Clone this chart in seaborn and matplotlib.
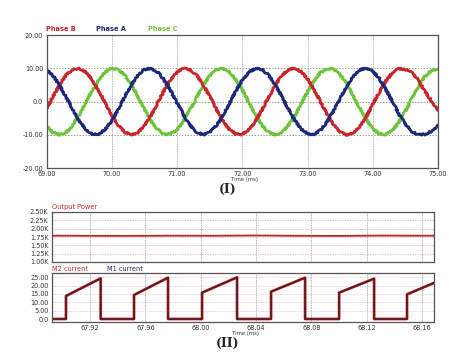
import numpy as np
import pandas as pd
import seaborn as sns
import matplotlib.pyplot as plt

# ---- data ----
# (I) three phase currents, sampled every 0.1 ms from 69.0 to 75.0 ms
phase_time = [round(69.0 + 0.1 * i, 1) for i in range(61)]
phase_a = [9.6, 7.8, 4.9, 1.3, -2.4, -5.8, -8.4, -9.8, -9.8, -8.4,
           -5.8, -2.4, 1.4, 5.0, 7.8, 9.6, 10.0, 8.9, 6.6, 3.4,
           -0.4, -4.0, -7.1, -9.2, -10.0, -9.3, -7.4, -4.3, -0.7, 3.1,
           6.4, 8.8, 9.9, 9.7, 8.0, 5.3, 1.7, -2.0, -5.5, -8.2,
           -9.7, -9.9, -8.6, -6.1, -2.7, 1.0, 4.6, 7.6, 9.5, 10.0,
           9.1, 6.9, 3.7, 0.0, -3.7, -6.9, -9.1, -10.0, -9.9, -8.9,
           -7.2]
phase_b = [-2.2, 1.5, 5.1, 7.9, 9.6, 9.9, 8.9, 6.5, 3.3, -0.5,
           -4.2, -7.2, -9.3, -10.0, -9.3, -7.3, -4.2, -0.6, 3.2, 6.5,
           8.8, 9.9, 9.6, 8.0, 5.1, 1.6, -2.2, -5.6, -8.3, -9.8,
           -9.9, -8.5, -6.0, -2.6, 1.1, 4.7, 7.7, 9.5, 10.0, 9.0,
           6.8, 3.6, -0.1, -3.8, -7.0, -9.1, -10.0, -9.4, -7.5, -4.6,
           -0.9, 2.8, 6.2, 8.6, 9.9, 9.7, 8.6, 6.4, 3.0, 0.2,
           -2.6]
phase_c = [-7.3, -9.3, -10.0, -9.3, -7.2, -4.1, -0.4, 3.3, 6.6, 8.9,
           10.0, 9.6, 7.9, 5.0, 1.5, -2.3, -5.7, -8.4, -9.8, -9.8,
           -8.5, -5.9, -2.5, 1.3, 4.9, 7.7, 9.5, 10.0, 9.0, 6.7,
           3.5, -0.2, -3.9, -7.1, -9.2, -10.0, -9.4, -7.4, -4.5, -0.8,
           2.9, 6.3, 8.7, 9.9, 9.7, 8.1, 5.4, 1.8, -1.9, -5.4,
           -8.2, -9.7, -9.9, -8.7, -6.2, -2.9, 0.9, 4.5, 7.5, 9.4,
           9.8]
phase_names = ["Phase B", "Phase A", "Phase C"]
phase_colors = ["#c8262b", "#1c2878", "#6cc43a"]
top_xticks = [69.0, 70.0, 71.0, 72.0, 73.0, 74.0, 75.0]
top_yticks = [-20, -10, 0, 10, 20]
top_ylabels = ["-20.00", "-10.00", "0.0", "10.00", "20.00"]

# (II) output power
power_time = [67.8925, 67.92, 67.95, 67.98, 68.01, 68.04, 68.07, 68.10, 68.13, 68.1687]
power_w = [1790, 1786, 1784, 1789, 1787, 1795, 1786, 1783, 1792, 1788]
power_yticks = [1000, 1250, 1500, 1750, 2000, 2250, 2500]
power_ylabels = ["1.00K", "1.25K", "1.50K", "1.75K", "2.00K", "2.25K", "2.50K"]

# (II) switch current pulses
pulse_start = [67.9026, 67.9518, 68.0010, 68.0509, 68.1001, 68.1492]
pulse_end = [67.9277, 67.9764, 68.0263, 68.0755, 68.1254, 68.1760]
pulse_low = [13.8, 14.4, 15.8, 16.4, 15.8, 14.8]
pulse_high = [24.4, 24.8, 25.0, 24.8, 24.2, 24.2]
cur_yticks = [0, 5, 10, 15, 20, 25]
cur_ylabels = ["0.0", "5.00", "10.00", "15.00", "20.00", "25.00"]
bottom_xticks = [67.92, 67.96, 68.00, 68.04, 68.08, 68.12, 68.16]

sns.set_style("white")
plt.rcParams['font.family'] = ['DejaVu Sans']

fig = plt.figure(figsize=(4.59, 3.54), dpi=100)
W, H = 459.0, 354.0


def add_ax(x0, y0, x1, y1):
    return fig.add_axes([x0 / W, 1 - y1 / H, (x1 - x0) / W, (y1 - y0) / H])


def style_box(ax):
    for s in ax.spines.values():
        s.set_color("#555555")
        s.set_linewidth(0.9)
    ax.tick_params(length=0, labelsize=4.7, pad=2.5, colors="#333333")


# ---- (I) phases ----
ax1 = add_ax(46.5, 35, 438, 168)
df = pd.DataFrame({
    "t": phase_time * 3,
    "v": phase_b + phase_a + phase_c,
    "phase": ["Phase B"] * 61 + ["Phase A"] * 61 + ["Phase C"] * 61,
})
sns.lineplot(data=df, x="t", y="v", hue="phase", hue_order=["Phase C", "Phase B", "Phase A"],
             palette=dict(zip(phase_names, phase_colors)), linewidth=2.0,
             legend=False, ax=ax1, sort=False, estimator=None)
for ln in ax1.lines:
    ln.set_sketch_params(scale=0.8, length=1.5, randomness=3)
ax1.set_xlim(69.0, 75.0)
ax1.set_ylim(-20, 20)
ax1.set_xticks(top_xticks)
ax1.set_xticklabels(["{:.2f}".format(t) for t in top_xticks])
ax1.set_yticks(top_yticks)
ax1.set_yticklabels(top_ylabels)
ax1.set_xlabel("")
ax1.set_ylabel("")
for t in top_xticks[1:-1]:
    ax1.axvline(t, color="#9a9a9a", lw=0.6, ls=(0, (1, 1)), zorder=0)
for v in [-10, 0, 10]:
    ax1.axhline(v, color="#a0a080", lw=0.7, ls=(0, (1.5, 1.5)), zorder=0)
style_box(ax1)
for i, (name, col) in enumerate(zip(phase_names, phase_colors)):
    ax1.text([0.0, 0.127, 0.258][i], 1.025, name, color=col, fontsize=4.8,
             fontweight="bold", transform=ax1.transAxes, va="bottom")
fig.text(244 / W, 1 - 179.5 / H, "Time (ms)", fontsize=3.8, ha="center", va="center", color="#333333")
fig.text(228 / W, 1 - 189 / H, "(I)", fontsize=9, fontweight="bold",
         family="DejaVu Serif", ha="center", va="center")

# ---- (II) output power ----
ax2 = add_ax(52, 212, 434, 262)
sns.lineplot(x=power_time, y=power_w, color="#b0282a", linewidth=1.3, ax=ax2)
ax2.set_xlim(67.8925, 68.1687)
ax2.set_ylim(1000, 2500)
ax2.set_xticks(bottom_xticks)
ax2.set_xticklabels([])
ax2.set_yticks(power_yticks)
ax2.set_yticklabels(power_ylabels)
for v in power_yticks[1:-1]:
    ax2.axhline(v, color="#e0b0b0", lw=0.6, ls=(0, (1.5, 1.5)), zorder=0)
for t in bottom_xticks:
    ax2.axvline(t, color="#9a9a9a", lw=0.6, ls=(0, (1, 1)), zorder=0)
style_box(ax2)
ax2.text(0.0, 1.04, "Output Power", color="#c8262b", fontsize=4.8,
         transform=ax2.transAxes, va="bottom")

# ---- (II) currents ----
ax3 = add_ax(52, 273, 434, 322)
cur_t, cur_v = [67.8925], [0.0]
for s, e, lo, hi in zip(pulse_start, pulse_end, pulse_low, pulse_high):
    cur_t += [s, s, e, e]
    cur_v += [0.0, lo, hi, 0.0]
cur_t.append(68.1687 + 0.02)
cur_v.append(0.0)
cur = pd.DataFrame({"t": cur_t, "i": cur_v})
sns.lineplot(data=cur, x="t", y="i", color="#c8262b", linewidth=2.0, ax=ax3,
             sort=False, estimator=None)
sns.lineplot(data=cur, x="t", y="i", color="#4a1a22", linewidth=1.1, ax=ax3,
             sort=False, estimator=None)
ax3.set_xlim(67.8925, 68.1687)
ax3.set_ylim(-1.8, 27.6)
ax3.set_xticks(bottom_xticks)
ax3.set_xticklabels(["{:.2f}".format(t) for t in bottom_xticks])
ax3.set_yticks(cur_yticks)
ax3.set_yticklabels(cur_ylabels)
ax3.set_xlabel("")
ax3.set_ylabel("")
for v in cur_yticks[1:]:
    ax3.axhline(v, color="#e8c8c8", lw=0.6, ls=(0, (1.5, 1.5)), zorder=0)
for t in bottom_xticks:
    ax3.axvline(t, color="#9a9a9a", lw=0.6, ls=(0, (1, 1)), zorder=0)
style_box(ax3)
ax3.text(0.0, 1.03, "M2 current", color="#c8262b", fontsize=4.8,
         transform=ax3.transAxes, va="bottom")
ax3.text(0.144, 1.03, "M1 current", color="#1c2878", fontsize=4.8,
         transform=ax3.transAxes, va="bottom")
fig.text(246 / W, 1 - 333.5 / H, "Time (ms)", fontsize=3.8, ha="center", va="center", color="#333333")
fig.text(228 / W, 1 - 343 / H, "(II)", fontsize=9, fontweight="bold",
         family="DejaVu Serif", ha="center", va="center")

fig.savefig("out.png", dpi=100)
